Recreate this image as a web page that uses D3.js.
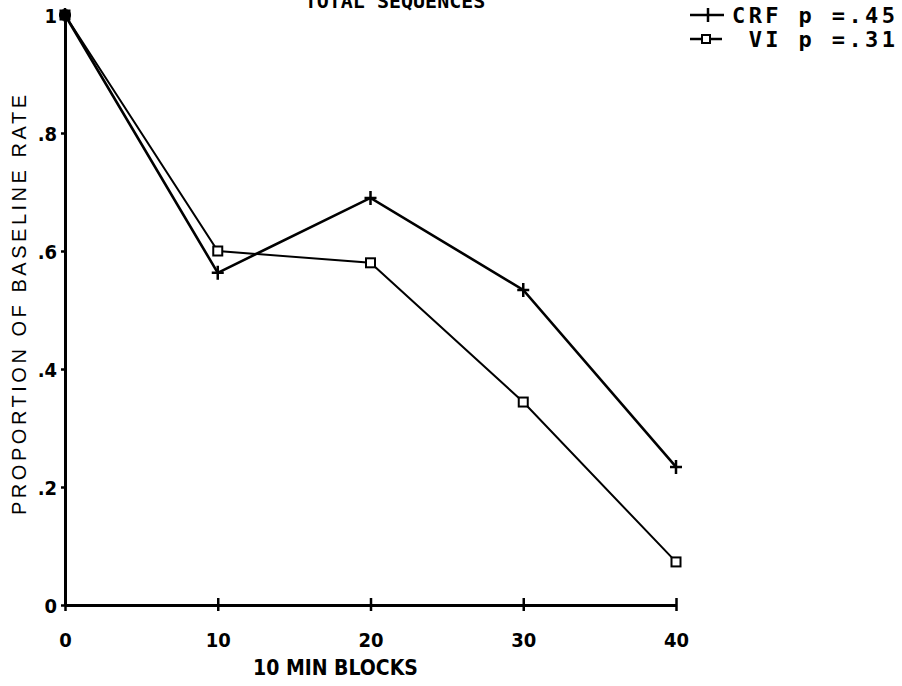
<!DOCTYPE html>
<html>
<head>
<meta charset="utf-8">
<script src="https://cdn.jsdelivr.net/npm/d3@7"></script>
<style>
  body { margin: 0; background: #fff; }
  svg { display: block; }
  .tick text { font-family: "Liberation Sans Narrow", "DejaVu Sans Condensed", sans-serif; font-weight: bold; font-size: 20px; }
</style>
</head>
<body>
<div id="svg-area"></div>
<script>
// data
var blocks = [0, 10, 20, 30, 40];
var crfValues = [1.0, 0.563, 0.69, 0.534, 0.234];
var viValues = [1.0, 0.60, 0.58, 0.344, 0.073];
var xTicks = [0, 10, 20, 30, 40];
var yTicks = [0, 0.2, 0.4, 0.6, 0.8, 1];
var yTickLabels = ["0", ".2", ".4", ".6", ".8", "1"];
var legendLabels = ["CRF p =.45", " VI p =.31"];

var svgWidth = 902;
var svgHeight = 686;

var margin = { top: 15, right: 226, bottom: 81, left: 65 };
var chartWidth = svgWidth - margin.left - margin.right;
var chartHeight = svgHeight - margin.top - margin.bottom;

var svg = d3.select("#svg-area")
  .append("svg")
  .attr("width", svgWidth)
  .attr("height", svgHeight);

var chartGroup = svg.append("g")
  .attr("transform", `translate(${margin.left}, ${margin.top})`);

var xScale = d3.scaleLinear().domain([0, 40]).range([0, chartWidth]);
var yScale = d3.scaleLinear().domain([0, 1]).range([chartHeight, 0]);

// axes
var bottomAxis = d3.axisBottom(xScale).tickValues(xTicks).tickSize(-7).tickPadding(28).tickSizeOuter(0);
var leftAxis = d3.axisLeft(yScale).tickValues(yTicks).tickSize(4).tickPadding(4).tickSizeOuter(0)
  .tickFormat((d, i) => yTickLabels[i]);

var xAxisG = chartGroup.append("g")
  .attr("transform", `translate(0, ${chartHeight})`)
  .call(bottomAxis);
var yAxisG = chartGroup.append("g").call(leftAxis);

[xAxisG, yAxisG].forEach(function(g) {
  g.select(".domain").attr("stroke", "#000").attr("stroke-width", 3);
  g.selectAll(".tick line").attr("stroke", "#000").attr("stroke-width", 2.5);
  g.selectAll(".tick text").attr("fill", "#000");
});
// x ticks also poke below the axis a little
xAxisG.selectAll(".tick").append("line")
  .attr("y1", 0).attr("y2", 6).attr("stroke", "#000").attr("stroke-width", 2.5);
yAxisG.selectAll(".tick text").attr("dy", "0.35em");

// lines
var line = d3.line()
  .x((d, i) => xScale(blocks[i]))
  .y(d => yScale(d));

chartGroup.append("path")
  .datum(crfValues)
  .attr("d", line)
  .attr("fill", "none")
  .attr("stroke", "#000")
  .attr("stroke-width", 2.6);

chartGroup.append("path")
  .datum(viValues)
  .attr("d", line)
  .attr("fill", "none")
  .attr("stroke", "#000")
  .attr("stroke-width", 2);

// markers
chartGroup.selectAll(".plus")
  .data(crfValues)
  .enter()
  .append("path")
  .attr("class", "plus")
  .attr("transform", (d, i) => `translate(${xScale(blocks[i])}, ${yScale(d)})`)
  .attr("d", "M-6,0H6M0,-7V7")
  .attr("stroke", "#000")
  .attr("stroke-width", 2.5);

chartGroup.selectAll(".sq")
  .data(viValues)
  .enter()
  .append("rect")
  .attr("class", "sq")
  .attr("x", (d, i) => xScale(blocks[i]) - 4.5)
  .attr("y", d => yScale(d) - 4.5)
  .attr("width", 9)
  .attr("height", 9)
  .attr("fill", "#fff")
  .attr("stroke", "#000")
  .attr("stroke-width", 2);

// heavy dot at the start point
chartGroup.append("circle")
  .attr("cx", xScale(0)).attr("cy", yScale(1)).attr("r", 6).attr("fill", "#000");

// axis labels
chartGroup.append("text")
  .attr("transform", "rotate(-90)")
  .attr("x", 0 - 290)
  .attr("y", 0 - margin.left + 26)
  .attr("text-anchor", "middle")
  .attr("font-family", "Liberation Sans, Arial, sans-serif")
  .attr("font-size", 20)
  .attr("textLength", 420)
  .attr("lengthAdjust", "spacing")
  .text("PROPORTION OF BASELINE RATE");

chartGroup.append("text")
  .attr("x", xScale(20) - 35)
  .attr("y", chartHeight + 70)
  .attr("text-anchor", "middle")
  .attr("font-family", "Liberation Sans Narrow, DejaVu Sans Condensed, sans-serif")
  .attr("font-weight", "bold")
  .attr("font-size", 21)
  .text("10 MIN BLOCKS");

// title, cut off by the top edge as in the source scan
svg.append("text")
  .attr("x", 395)
  .attr("y", 8)
  .attr("text-anchor", "middle")
  .attr("font-family", "DejaVu Sans Mono, monospace")
  .attr("font-weight", "bold")
  .attr("font-size", 20)
  .text("TOTAL SEQUENCES");

// legend
var legend = svg.append("g").attr("transform", "translate(690, 0)");
legend.append("path").attr("d", "M0,15H34").attr("stroke", "#000").attr("stroke-width", 2.5);
legend.append("path").attr("d", "M18,8V22").attr("stroke", "#000").attr("stroke-width", 2.5);
legend.append("path").attr("d", "M0,39H32").attr("stroke", "#000").attr("stroke-width", 2.5);
legend.append("rect").attr("x", 12).attr("y", 35).attr("width", 8).attr("height", 8)
  .attr("fill", "#fff").attr("stroke", "#000").attr("stroke-width", 2);

legend.selectAll(".leg")
  .data(legendLabels)
  .enter()
  .append("text")
  .attr("class", "leg")
  .attr("x", 42)
  .attr("y", (d, i) => 23 + i * 24)
  .attr("font-family", "DejaVu Sans Mono, monospace")
  .attr("font-weight", "bold")
  .attr("font-size", 22)
  .attr("textLength", 163)
  .style("white-space", "pre")
  .text(d => d);
</script>
</body>
</html>
